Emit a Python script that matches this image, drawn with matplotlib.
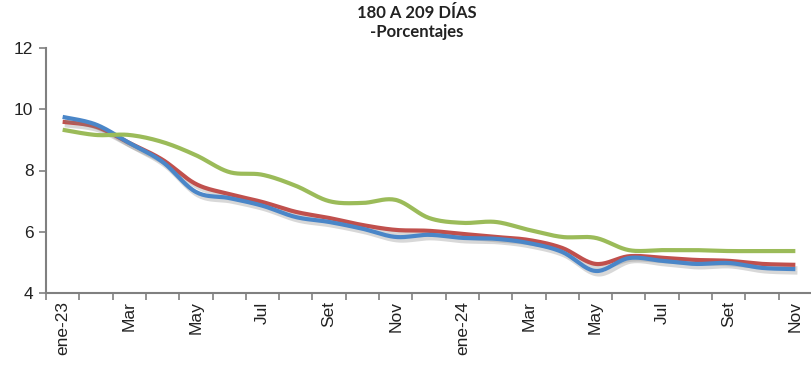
import numpy as np
import matplotlib
matplotlib.use('Agg')
import matplotlib.pyplot as plt
import matplotlib.patheffects as pe

## data
months = ['ene-23', 'Feb', 'Mar', 'Abr', 'May', 'Jun', 'Jul', 'Ago', 'Set', 'Oct', 'Nov', 'Dic',
          'ene-24', 'Feb', 'Mar', 'Abr', 'May', 'Jun', 'Jul', 'Ago', 'Set', 'Oct', 'Nov']
blue = [9.75, 9.50, 8.90, 8.28, 7.30, 7.10, 6.85, 6.48, 6.32, 6.10, 5.83, 5.90,
        5.80, 5.77, 5.63, 5.34, 4.72, 5.14, 5.05, 4.95, 4.98, 4.82, 4.78]
red = [9.59, 9.43, 8.90, 8.35, 7.56, 7.23, 6.97, 6.65, 6.45, 6.22, 6.06, 6.03,
       5.93, 5.83, 5.73, 5.47, 4.95, 5.20, 5.15, 5.08, 5.05, 4.95, 4.92]
green = [9.33, 9.16, 9.16, 8.93, 8.50, 7.95, 7.86, 7.50, 7.00, 6.94, 7.04, 6.45,
         6.29, 6.32, 6.06, 5.83, 5.80, 5.40, 5.40, 5.40, 5.37, 5.37, 5.37]

yticks = [4, 6, 8, 10, 12]


def smooth(x, y, n=20):
    ## catmull-rom style curve through the points, like excel's smoothed lines
    x = np.asarray(x, float)
    y = np.asarray(y, float)
    px = np.concatenate([[x[0]], x, [x[-1]]])
    py = np.concatenate([[y[0]], y, [y[-1]]])
    xs, ys = [], []
    t = np.linspace(0, 1, n, endpoint=False)
    for i in range(1, len(px) - 2):
        p0, p1, p2, p3 = [np.array([px[j], py[j]]) for j in (i - 1, i, i + 1, i + 2)]
        c1 = p1 + (p2 - p0) / 6
        c2 = p2 - (p3 - p1) / 6
        b = ((1 - t) ** 3)[:, None] * p1 + (3 * (1 - t) ** 2 * t)[:, None] * c1 \
            + (3 * (1 - t) * t ** 2)[:, None] * c2 + (t ** 3)[:, None] * p2
        xs.append(b[:, 0])
        ys.append(b[:, 1])
    xs.append([x[-1]])
    ys.append([y[-1]])
    return np.concatenate(xs), np.concatenate(ys)


fig = plt.figure(figsize=(8.12, 3.66), dpi=100)
ax = fig.add_axes([46 / 812, 1 - 293 / 366, 1 - 46 / 812, (293 - 48) / 366])

xi = np.arange(len(months))
shadow = [pe.SimpleLineShadow(offset=(1.5, -2.5), shadow_color='gray', alpha=0.3), pe.Normal()]
for vals, col, eff in [(red, '#C0504D', shadow), (blue, '#4A86C8', shadow), (green, '#9BBB59', None)]:
    sx, sy = smooth(xi, vals)
    ax.plot(sx, sy, color=col, lw=3, solid_capstyle='butt', path_effects=eff)

ax.set_xlim(-0.5, len(months) - 0.5)
ax.set_ylim(4, 12)
ax.set_yticks(yticks)
ax.set_yticklabels([str(v) for v in yticks], fontsize=12.5, family='Liberation Sans', color='#222222')

ax.set_xticks(xi[::2])
ax.set_xticklabels(months[::2], rotation=90, fontsize=12.5, family='Liberation Sans', color='#222222')
ax.set_xticks(np.arange(len(months) + 1) - 0.5, minor=True)
ax.tick_params(axis='x', which='major', length=0, pad=6)
ax.tick_params(axis='x', which='minor', length=5, direction='out', color='#808080', width=1.2)
ax.tick_params(axis='y', length=5, direction='out', color='#808080', width=1.2, pad=4)

for s in ['top', 'right']:
    ax.spines[s].set_visible(False)
for s in ['left', 'bottom']:
    ax.spines[s].set_color('#808080')
    ax.spines[s].set_linewidth(1.5)

fig.text(0.513, 0.985, '180 A 209 DÍAS\n-Porcentajes', ha='center', va='top',
         fontsize=12, fontweight='bold', family='Lato', color='#222222', linespacing=1.2)

plt.savefig('out.png', dpi=100)
